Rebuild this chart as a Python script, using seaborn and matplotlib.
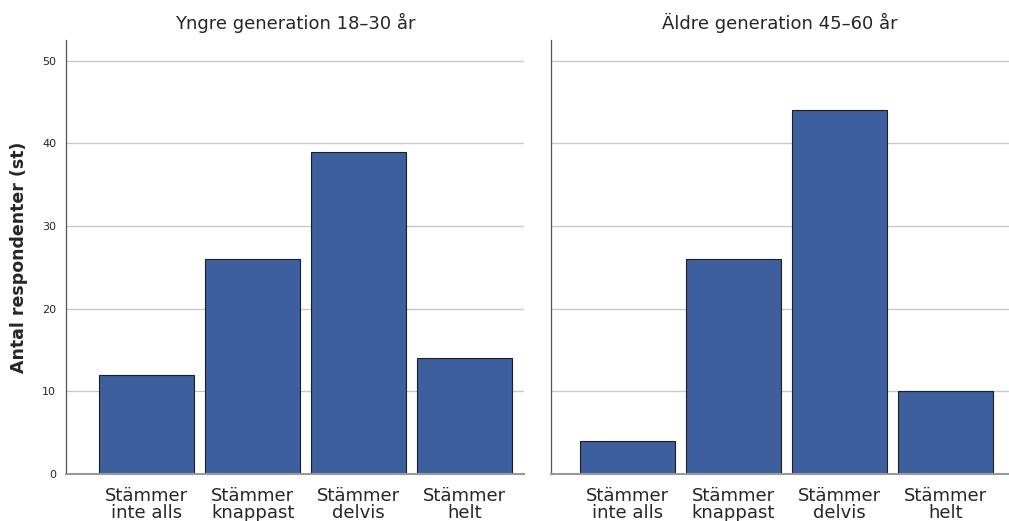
import pandas as pd
import matplotlib.pyplot as plt
import seaborn as sns

# --- data ---
categories = ['Stämmer\ninte alls', 'Stämmer\nknappast', 'Stämmer\ndelvis', 'Stämmer\nhelt']
young_counts = [12, 26, 39, 14]
old_counts = [4, 26, 44, 10]
panel_titles = ['Yngre generation 18–30 år', 'Äldre generation 45–60 år']
y_ticks = [0, 10, 20, 30, 40, 50]

BAR_COLOR = '#3e5f9e'
GRID_COLOR = '#c9c9c9'


def main():
    sns.set_style('white')
    plt.rcParams['font.family'] = ['DejaVu Sans']

    df = pd.DataFrame({
        'Svar': categories * 2,
        'Antal': young_counts + old_counts,
        'Grupp': [panel_titles[0]] * 4 + [panel_titles[1]] * 4,
    })

    fig = plt.figure(figsize=(10.09, 5.21), dpi=100)
    ax_l = fig.add_axes([0.0654, 0.0902, 0.454, 0.833])
    ax_r = fig.add_axes([0.546, 0.0902, 0.454, 0.833], sharey=ax_l)

    # x-range for each panel (left panel has a slightly wider left margin)
    xlims = [(-0.76, 3.56), (-0.72, 3.60)]

    for ax, title, xl in zip([ax_l, ax_r], panel_titles, xlims):
        sub = df[df['Grupp'] == title]
        ax.set_axisbelow(True)
        sns.barplot(data=sub, x='Svar', y='Antal', order=categories, ax=ax,
                    color=BAR_COLOR, saturation=1, width=0.9,
                    edgecolor='#1e1e1e', linewidth=0.8, errorbar=None)
        ax.set_xlim(*xl)
        ax.set_ylim(0, 52.5)
        ax.set_yticks(y_ticks)
        ax.yaxis.grid(True, color=GRID_COLOR, linewidth=1)
        ax.set_title(title, fontsize=13, pad=8)
        ax.set_xlabel('')
        ax.set_ylabel('')
        ax.tick_params(axis='x', length=0, labelsize=13, pad=9)
        ax.tick_params(axis='y', length=0, labelsize=8, pad=7)
        for lbl in ax.get_xticklabels():
            lbl.set_linespacing(0.95)
        for side in ['top', 'right']:
            ax.spines[side].set_visible(False)
        ax.spines['left'].set_color('#555555')
        ax.spines['left'].set_linewidth(0.9)
        ax.spines['bottom'].set_color('#999999')
        ax.spines['bottom'].set_linewidth(1.5)

    ax_r.tick_params(axis='y', labelleft=False)
    ax_l.set_ylabel('Antal respondenter (st)', fontsize=12.5, fontweight='bold', labelpad=10)

    plt.savefig('out.png', dpi=100)


if __name__ == '__main__':
    main()
